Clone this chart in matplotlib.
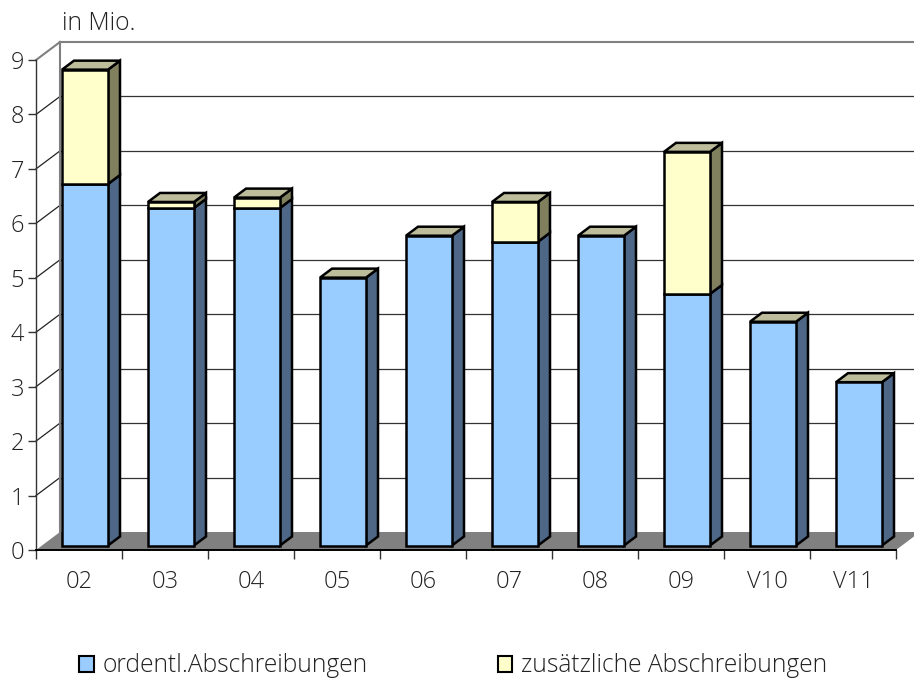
import numpy as np
import matplotlib
matplotlib.use("Agg")
import matplotlib.pyplot as plt
from matplotlib.patches import Polygon, Patch

categories = ["02", "03", "04", "05", "06", "07", "08", "09", "V10", "V11"]
ordentlich = [6.64, 6.20, 6.20, 4.92, 5.69, 5.58, 5.69, 4.62, 4.11, 3.00]
zusaetzlich = [2.10, 0.11, 0.19, 0, 0, 0.73, 0, 2.61, 0, 0]
y_ticks = list(range(10))

plt.rcParams["font.family"] = ["Open Sans", "DejaVu Sans"]
plt.rcParams["font.weight"] = "light"
W, H = 914, 681
fig = plt.figure(figsize=(W / 100, H / 100), dpi=100)
ax = fig.add_axes([36 / W, (H - 550) / H, 860 / W, 490 / H])
ax.set_xlim(0, 10)
ax.set_ylim(0, 9)

px = 10 / 860
py = 9 / 490
DX, DY = 24 * px, 18 * py
TXT = "#222222"
LW = 1.8


def poly(pts, fc, ec="none", lw=0, z=1):
    ax.add_patch(Polygon(pts, closed=True, fc=fc, ec=ec, lw=lw, zorder=z,
                         clip_on=False, joinstyle="miter"))


# floor
poly([(0, 0), (10, 0), (10 + DX, DY), (DX, DY)], "#808080", z=1)
# walls
for v in y_ticks[1:]:
    col = "#808080" if v == 9 else "#222222"
    ax.plot([0, DX], [v, v + DY], color=col, lw=1.5 if v == 9 else 0.9, zorder=1.5, clip_on=False)
    ax.plot([DX, 10 + DX], [v + DY, v + DY], color="#808080" if v == 9 else "#333333",
            lw=1.5 if v == 9 else 0.9, zorder=1.5, clip_on=False)
ax.plot([DX, DX], [DY, 9 + DY], color="#808080", lw=1.5, zorder=1.5, clip_on=False)

# bars
x = np.arange(10) + 0.5
bw = 46 * px
fx, fy = DX / 4, DY / 4
sx, sy = DX / 2, DY / 2
o = np.array(ordentlich)
z = np.array(zusaetzlich)
for i in range(10):
    x0 = x[i] - bw / 2 + fx
    x1 = x0 + bw
    zo = 3 + i
    segs = [(0, o[i], "#99CCFF", "#4F6787")]
    if z[i] > 0:
        segs.append((o[i], o[i] + z[i], "#FFFFCC", "#80805F"))
    for b, t, front, side in segs:
        ax.bar(x0 + bw / 2, t - b, bw, bottom=b + fy, color=front, edgecolor="black",
               linewidth=LW, zorder=zo + 0.2, clip_on=False)
        poly([(x1, b + fy), (x1 + sx, b + fy + sy), (x1 + sx, t + fy + sy), (x1, t + fy)],
             side, "black", LW, zo)
    top = o[i] + z[i] + fy
    poly([(x0, top), (x1, top), (x1 + sx, top + sy), (x0 + sx, top + sy)],
         "#BDBD9B", "black", LW, zo)

# axes
for s in ["top", "right"]:
    ax.spines[s].set_visible(False)
ax.spines["left"].set_color("#333333")
ax.spines["bottom"].set_color("black")
ax.spines["left"].set_linewidth(1.0)
ax.spines["bottom"].set_linewidth(1.4)
ax.spines["left"].set_zorder(2)
ax.spines["bottom"].set_zorder(2)
ax.set_yticks(y_ticks)
ax.set_yticklabels([str(v) for v in y_ticks])
ax.set_xticks(np.arange(11))
ax.set_xticklabels([])
ax.set_xticks(x, categories, minor=True)
ax.tick_params(axis="y", length=5.5, width=1, color="#333333", labelsize=17, labelcolor=TXT, pad=3)
ax.tick_params(axis="x", which="major", length=6.5, width=1, color="#333333")
ax.tick_params(axis="x", which="minor", length=0, labelsize=17, labelcolor=TXT, pad=14.5)

fig.text(62 / W, 1 - 23 / H, "in Mio.", fontsize=17.7, color=TXT, ha="left", va="center")

handles = [Patch(fc="#99CCFF", ec="black", lw=1.5), Patch(fc="#FFFFCC", ec="black", lw=1.5)]
fig.legend(handles, ["ordentl.Abschreibungen", "zusätzliche Abschreibungen"],
           ncol=2, frameon=False, loc="center left", bbox_to_anchor=(72 / W, 1 - 666 / H),
           prop={"size": 17.7, "weight": "light"}, labelcolor=TXT, handlelength=0.6, handleheight=0.6,
           handletextpad=0.33, columnspacing=5.3, borderpad=0.3, borderaxespad=0)

fig.savefig("out.png", dpi=100)
